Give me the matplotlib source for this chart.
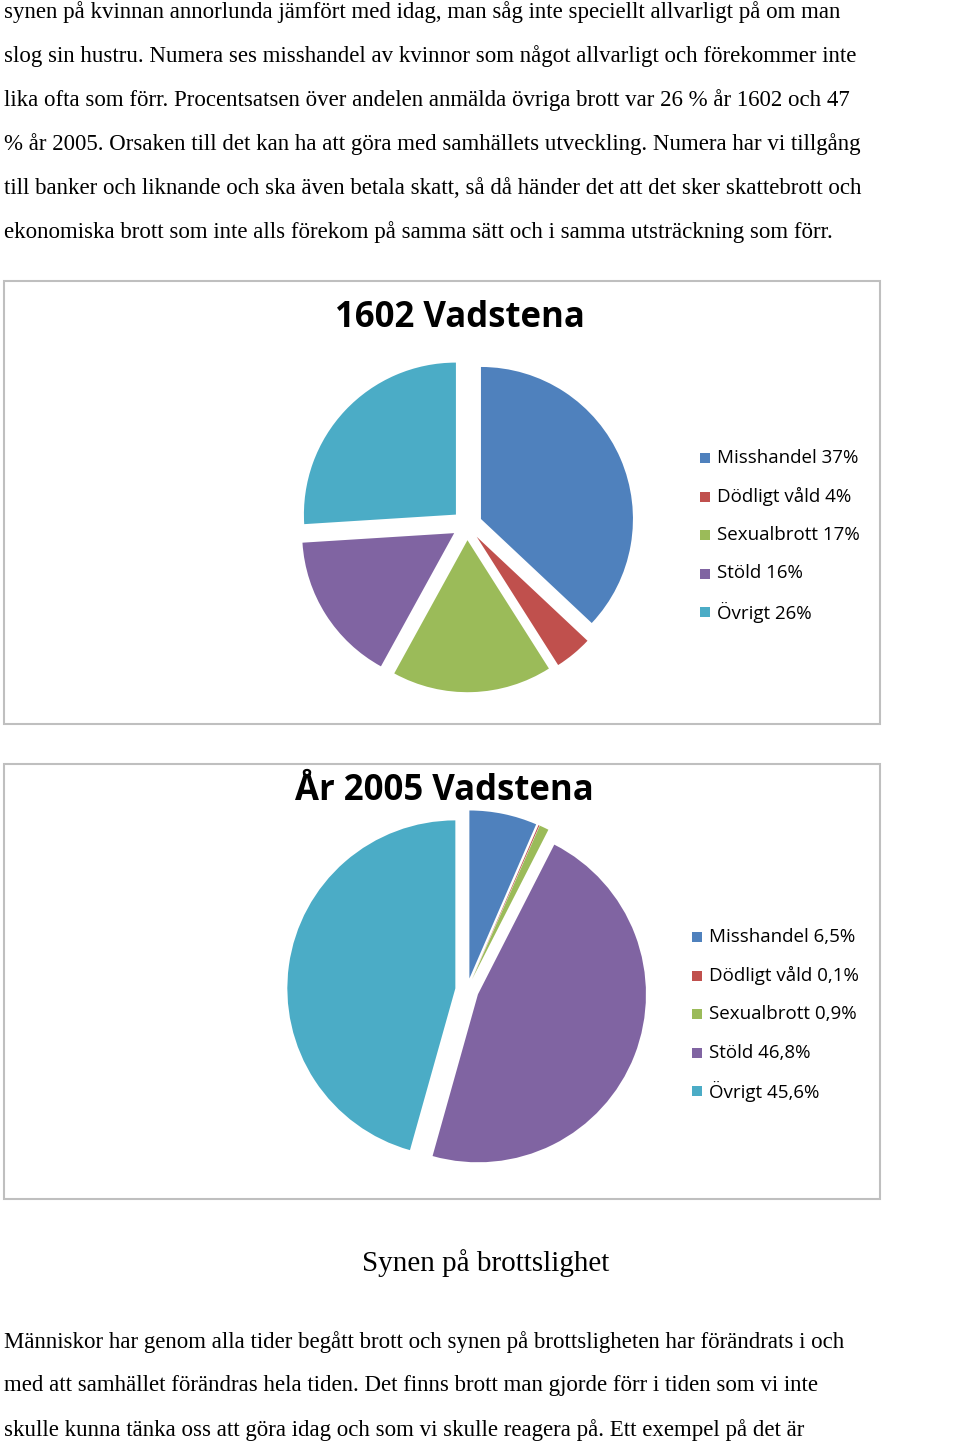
import matplotlib
matplotlib.use("Agg")
import matplotlib.pyplot as plt
from matplotlib.patches import Rectangle

W, H = 960, 1446
labels1 = ["Misshandel 37%", "Dödligt våld 4%", "Sexualbrott 17%", "Stöld 16%", "Övrigt 26%"]
values1 = [37, 4, 17, 16, 26]
labels2 = ["Misshandel 6,5%", "Dödligt våld 0,1%", "Sexualbrott 0,9%", "Stöld 46,8%", "Övrigt 45,6%"]
values2 = [6.5, 0.1, 0.9, 46.8, 45.6]
colors = ["#4F81BD", "#C0504D", "#9BBB59", "#8064A2", "#4BACC6"]

top_text = [
    "synen på kvinnan annorlunda jämfört med idag, man såg inte speciellt allvarligt på om man",
    "slog sin hustru. Numera ses misshandel av kvinnor som något allvarligt och förekommer inte",
    "lika ofta som förr. Procentsatsen över andelen anmälda övriga brott var 26 % år 1602 och 47",
    "% år 2005. Orsaken till det kan ha att göra med samhällets utveckling. Numera har vi tillgång",
    "till banker och liknande och ska även betala skatt, så då händer det att det sker skattebrott och",
    "ekonomiska brott som inte alls förekom på samma sätt och i samma utsträckning som förr.",
]
bottom_text = [
    "Människor har genom alla tider begått brott och synen på brottsligheten har förändrats i och",
    "med att samhället förändras hela tiden. Det finns brott man gjorde förr i tiden som vi inte",
    "skulle kunna tänka oss att göra idag och som vi skulle reagera på. Ett exempel på det är",
]

fig = plt.figure(figsize=(W/100, H/100), dpi=100)
serif = "Liberation Serif"
sans = "Open Sans"

def fy(y): return 1 - y/H
def fx(x): return x/W

for i, t in enumerate(top_text):
    fig.text(fx(4), fy(12 + 44*i), t, fontsize=16.5, family=serif, va="center", ha="left")
for i, t in enumerate(bottom_text):
    fig.text(fx(4), fy(1342 + 44*i), t, fontsize=16.5, family=serif, va="center", ha="left")
fig.text(fx(486), fy(1263), "Synen på brottslighet", fontsize=21, family=serif, va="center", ha="center")

def box(x0, y0, x1, y1):
    fig.patches.append(Rectangle((fx(x0), fy(y1)), fx(x1-x0), (y1-y0)/H, transform=fig.transFigure,
                                 fill=False, edgecolor="#BFBFBF", linewidth=1.5))

def chart(box_xy, title, title_xy, values, labels, cx, cy, r, expl, leg_x, leg_y0):
    box(*box_xy)
    fig.text(fx(title_xy[0]), fy(title_xy[1]), title, fontsize=25, fontweight="bold",
             family=sans, ha="center", va="center")
    half = 1.3 * r
    ax = fig.add_axes([fx(cx - half), fy(cy + half), 2*half/W, 2*half/H])
    ax.pie(values, colors=colors, startangle=90, counterclock=False, radius=1,
           explode=[expl]*len(values), wedgeprops=dict(linewidth=0))
    ax.set_xlim(-1.3, 1.3); ax.set_ylim(-1.3, 1.3); ax.set_aspect("equal"); ax.axis("off")
    for i, (lab, c) in enumerate(zip(labels, colors)):
        y = leg_y0 + 38.5*i
        fig.patches.append(Rectangle((fx(leg_x), fy(y + 5)), 10/W, 10/H, transform=fig.transFigure,
                                     facecolor=c, edgecolor="none"))
        fig.text(fx(leg_x + 17), fy(y), lab, fontsize=13.5, family=sans, va="center", ha="left")

chart((4, 281, 880, 724), "1602 Vadstena", (460, 318), values1, labels1, 467, 525, 152, 0.1, 700, 458)
chart((4, 764, 880, 1199), "År 2005 Vadstena", (444, 791), values2, labels2, 467, 990, 168, 0.07, 692, 937)

fig.savefig("out.png", dpi=100)
